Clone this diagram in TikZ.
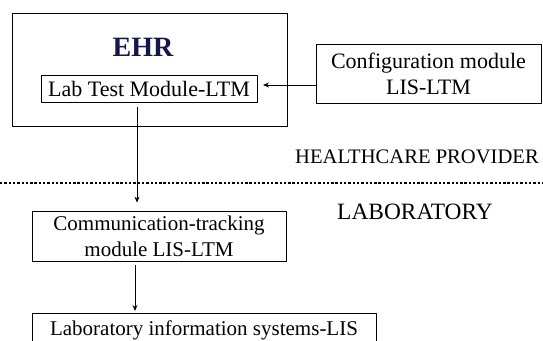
\documentclass[tikz,border=0pt]{standalone}
\usepackage{fontspec}
\setmainfont{Liberation Serif}
\usetikzlibrary{positioning,arrows.meta}
\definecolor{ehrnavy}{RGB}{22,22,72}
\begin{document}
\begin{tikzpicture}[x=1pt,y=-1pt,line join=round,>={Stealth[length=6pt,width=5pt]}]
	\tikzset{every node/.style={font=\fontsize{22}{26}\selectfont,inner sep=0pt},
		box/.style={draw,line width=0.8pt,align=center},
		link/.style={->,line width=0.8pt}}
	\useasboundingbox (0,0) rectangle (543,340);
	% healthcare provider
	\node[box,minimum width=275pt,minimum height=113pt] (ehr) at (149.5,69.5) {};
	\node[text=ehrnavy,font=\fontsize{28}{30}\bfseries] (ehrtitle) at (143,47) {EHR};
	\node[box,minimum width=216pt,minimum height=27pt] (ltm) at (149,88.5) {Lab Test Module-LTM};
	\node[box,minimum width=225pt,minimum height=59pt] (cfg) at (428.5,73.5) {Configuration module\\LIS-LTM};
	\node[anchor=west,font=\fontsize{20.6}{24}\selectfont] (hcp) at (295,157) {HEALTHCARE PROVIDER};
	% border
	\coordinate (divL) at (0,183);
	\coordinate (divR) at (543,183);
	\draw[line width=2.6pt,dash pattern=on 2.4pt off 1.9pt] (divL) -- (divR);
	% laboratory
	\node[anchor=west,font=\fontsize{23.4}{26}\selectfont] (lab) at (337,212) {LABORATORY};
	\node[box,minimum width=254pt,minimum height=50pt,font=\fontsize{21}{26}\selectfont] (comm) at (159,236) {Communication-tracking\\module LIS-LTM};
	\node[box,anchor=north,minimum width=344pt,text height=16pt,text depth=5pt,inner ysep=6pt,font=\fontsize{21}{26}\selectfont] (lis) at (204,313) {Laboratory information systems-LIS};
	% links
	\coordinate (ltmout) at (137,107);
	\coordinate (commout) at (135,265);
	\draw[link] (cfg.west |- 0,85) -- (263,85);
	\draw[link,shorten >=8pt] (ltmout) -- (ltmout |- comm.north);
	\draw[link,shorten >=2pt] (commout) -- (commout |- lis.north);
\end{tikzpicture}
\end{document}
